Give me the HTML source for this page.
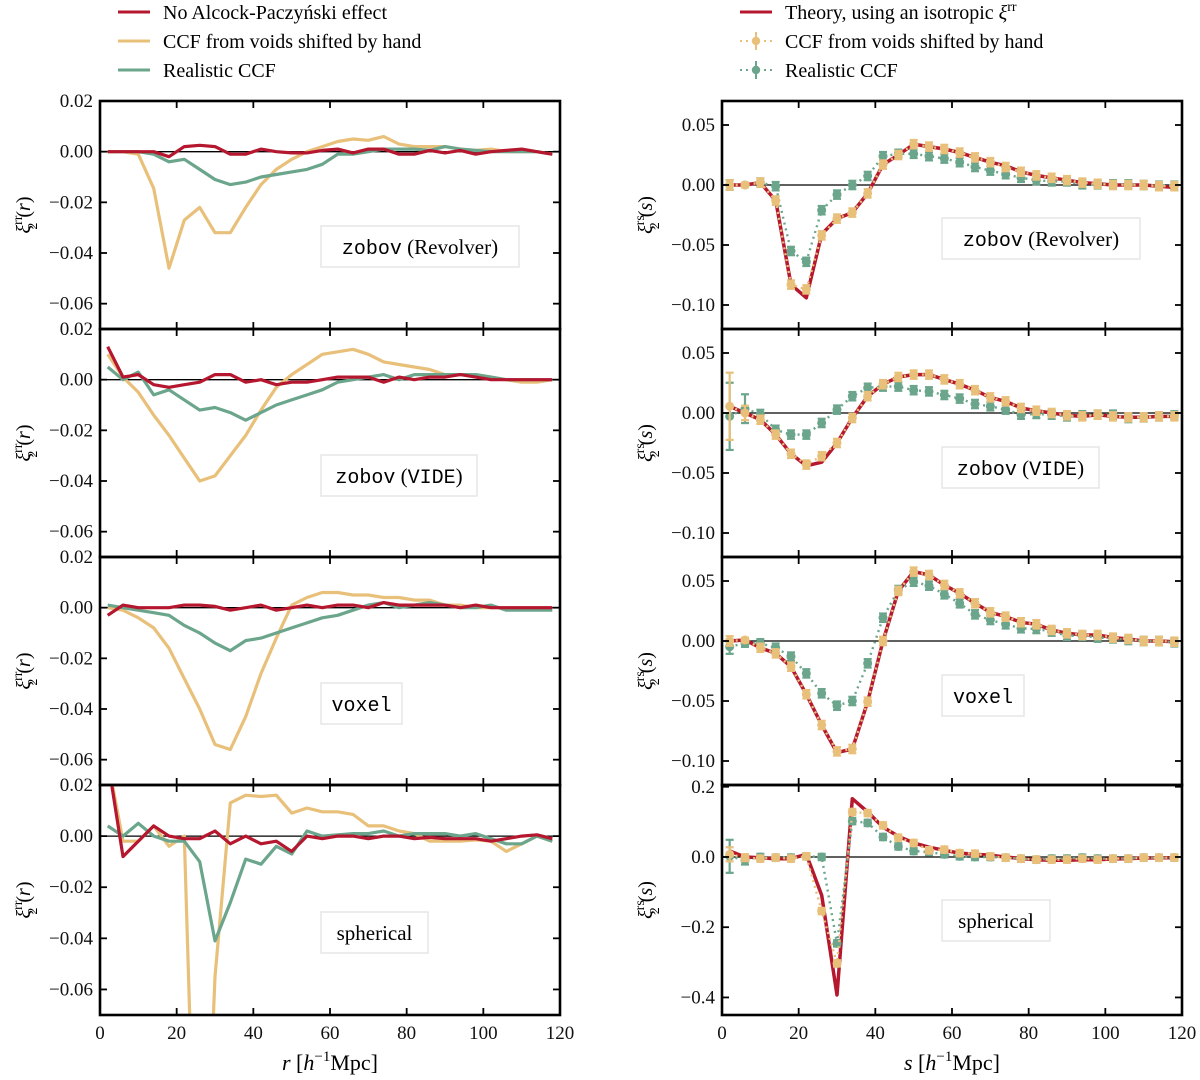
<!DOCTYPE html>
<html><head><meta charset="utf-8">
<style>
html,body{margin:0;padding:0;background:#fff;width:1200px;height:1080px;overflow:hidden;}
svg{display:block;font-family:"Liberation Serif",serif;}
.tk{font-size:19px;fill:#111;font-family:"Liberation Serif",serif;}
.mono{font-family:"Liberation Mono",monospace;font-size:20px;}
</style></head>
<body>
<svg id="fig" width="1200" height="1080" viewBox="0 0 1200 1080">
  <g id="legends">
    <g>
      <line x1="118" y1="12" x2="150" y2="12" stroke="#b5172f" stroke-width="3"/>
      <text x="163" y="19" font-size="20">No Alcock-Paczyński effect</text>
      <line x1="118" y1="41" x2="150" y2="41" stroke="#e8c07a" stroke-width="3"/>
      <text x="163" y="48" font-size="20">CCF from voids shifted by hand</text>
      <line x1="118" y1="70" x2="150" y2="70" stroke="#6aa58c" stroke-width="3"/>
      <text x="163" y="77" font-size="20">Realistic CCF</text>
    </g>
    <g>
      <line x1="740" y1="12" x2="772" y2="12" stroke="#b5172f" stroke-width="3"/>
      <text x="785" y="19" font-size="20">Theory, using an isotropic <tspan font-style="italic">ξ</tspan><tspan font-size="14" dy="-8">rr</tspan></text>
      <line x1="740" y1="41" x2="772" y2="41" stroke="#e8c07a" stroke-width="2" stroke-dasharray="2,4"/>
      <line x1="756" y1="32" x2="756" y2="50" stroke="#e8c07a" stroke-width="2"/>
      <circle cx="756" cy="41" r="4.2" fill="#e8c07a"/>
      <text x="785" y="48" font-size="20">CCF from voids shifted by hand</text>
      <line x1="740" y1="70" x2="772" y2="70" stroke="#6aa58c" stroke-width="2" stroke-dasharray="2,4"/>
      <line x1="756" y1="61" x2="756" y2="79" stroke="#6aa58c" stroke-width="2"/>
      <circle cx="756" cy="70" r="4.2" fill="#6aa58c"/>
      <text x="785" y="77" font-size="20">Realistic CCF</text>
    </g>
  </g>
  <g id="panels"></g>
</svg>
<script>
const xs = [2,6,10,14,18,22,26,30,34,38,42,46,50,54,58,62,66,70,74,78,82,86,90,94,98,102,106,110,114,118];
const xTicks = [0,20,40,60,80,100,120];
const yTicksLeft = [0.02,0,-0.02,-0.04,-0.06];
const yTickLabelsLeft = ["0.02","0.00","−0.02","−0.04","−0.06"];
const yTicksRight = [0.05,0,-0.05,-0.10];
const yTickLabelsRight = ["0.05","0.00","−0.05","−0.10"];
const yTicksRight4 = [0.2,0,-0.2,-0.4];
const yTickLabelsRight4 = ["0.2","0.0","−0.2","−0.4"];
const panelNames = ["zobov (Revolver)","zobov (VIDE)","voxel","spherical"];

// Left column: xi^rr
const leftRed1 = [0,0,0,0,-0.002,0.002,0.0025,0.002,-0.001,-0.001,0.001,0,-0.0005,-0.0005,0.0005,0.001,-0.0005,0.001,0.001,-0.001,-0.001,0.0005,-0.0005,0.0005,-0.001,0,0.0005,0.001,0,-0.001];
const leftYel1 = [0,0,-0.001,-0.0145,-0.046,-0.027,-0.022,-0.032,-0.032,-0.022,-0.013,-0.007,-0.003,0,0.002,0.004,0.005,0.0045,0.006,0.003,0.002,0.002,0.002,0.001,0.0005,0.001,0,0,0,-0.001];
const leftGrn1 = [0,0,0,-0.001,-0.004,-0.003,-0.007,-0.011,-0.013,-0.012,-0.010,-0.009,-0.008,-0.007,-0.005,-0.001,-0.001,0,0.001,0.001,0.001,0.0005,0.002,0.001,0.0005,0,0,0,0,-0.001];
const leftRed2 = [0.013,0.001,0.002,-0.002,-0.003,-0.002,-0.001,0.002,0.002,-0.001,0,-0.002,-0.001,-0.001,0,0.001,0.001,0.001,-0.001,0.001,0,0.001,0.001,0.002,0.001,0,0,0,0,0];
const leftYel2 = [0.010,0.001,-0.005,-0.014,-0.022,-0.031,-0.040,-0.038,-0.030,-0.022,-0.012,-0.003,0.002,0.006,0.010,0.011,0.012,0.010,0.007,0.006,0.005,0.004,0.002,0.002,0.002,0.001,0,-0.001,-0.001,0];
const leftGrn2 = [0.005,0,0.003,-0.006,-0.004,-0.008,-0.012,-0.011,-0.013,-0.016,-0.013,-0.010,-0.008,-0.006,-0.004,-0.001,0,0.001,0.002,0,0.002,0.002,0.002,0.002,0.002,0.001,0,0,0,0];
const leftRed3 = [-0.003,0.001,0,0,0,0.001,0.001,0.0005,-0.001,0,0.001,-0.001,0,0.001,0,0.001,0.001,0,0.002,0.001,0.001,0.001,0.001,0,0.001,0,0,0,0,0];
const leftYel3 = [0,-0.001,-0.004,-0.008,-0.016,-0.028,-0.040,-0.054,-0.056,-0.043,-0.026,-0.012,0.001,0.004,0.006,0.006,0.005,0.005,0.004,0.004,0.003,0.003,0.001,0.001,0,0,0,0,0,0];
const leftGrn3 = [0.001,0,-0.001,-0.002,-0.003,-0.007,-0.010,-0.014,-0.017,-0.013,-0.012,-0.010,-0.008,-0.006,-0.004,-0.003,-0.001,0.001,0.002,0,0.001,0.002,0.001,0,0,0.001,-0.001,-0.001,-0.001,-0.001];
const leftRed4 = [0.03,-0.008,-0.002,0.004,0,-0.001,-0.001,0.002,-0.003,0,-0.003,-0.002,-0.006,0,-0.001,0,0,-0.001,0,0,-0.001,-0.0005,-0.001,-0.001,-0.001,-0.002,-0.001,0,0.0005,-0.001];
const leftYel4 = [0.03,-0.002,-0.002,0.004,-0.004,0,-0.2,-0.055,0.013,0.016,0.0155,0.016,0.009,0.011,0.0095,0.0095,0.0085,0.004,0.004,0.002,0.001,-0.002,-0.002,-0.002,-0.0015,-0.002,-0.006,-0.003,0,-0.002];
const leftGrn4 = [0.004,0,0.005,0,-0.002,-0.002,-0.010,-0.041,-0.026,-0.009,-0.011,-0.004,-0.007,0.002,0,0.0005,0.001,0.001,0.002,0,0.001,0.001,0.001,0,0.001,-0.001,-0.003,-0.003,0,-0.002];

// Right column: xi^rs
const rightRed1 = [0,0,0.002,-0.013,-0.083,-0.094,-0.041,-0.028,-0.023,-0.007,0.017,0.025,0.034,0.032,0.030,0.027,0.023,0.019,0.016,0.011,0.008,0.006,0.004,0.002,0.001,0,0,0,-0.001,-0.002];
const rightYel1 = [0,0,0.002,-0.013,-0.083,-0.087,-0.042,-0.028,-0.023,-0.007,0.017,0.025,0.034,0.032,0.030,0.027,0.023,0.019,0.015,0.011,0.008,0.006,0.004,0.002,0.001,0,0,0,-0.001,-0.001];
const rightGrn1 = [0,0,0.002,-0.001,-0.055,-0.064,-0.021,-0.008,0,0.0075,0.024,0.026,0.026,0.024,0.022,0.019,0.015,0.012,0.009,0.006,0.004,0.003,0.003,0.0006,0.0006,0.0006,0.0006,0,-0.0006,-0.0006];
const rightRed2 = [0.0056,0,-0.0056,-0.018,-0.034,-0.044,-0.041,-0.025,-0.004,0.014,0.024,0.030,0.032,0.032,0.028,0.024,0.019,0.013,0.0097,0.0042,0.0019,0,-0.0019,-0.0028,-0.0014,-0.0028,-0.0036,-0.0036,-0.0028,-0.0028];
const rightYel2 = [0.0056,0,-0.0056,-0.018,-0.034,-0.043,-0.036,-0.025,-0.0042,0.014,0.024,0.030,0.032,0.032,0.028,0.024,0.019,0.013,0.0097,0.0042,0.0019,0,-0.0019,-0.0028,-0.0014,-0.0028,-0.0036,-0.0036,-0.0028,-0.0028];
const rightGrn2 = [-0.0028,0.0036,-0.0008,-0.014,-0.018,-0.018,-0.0083,0.0028,0.014,0.021,0.022,0.022,0.019,0.018,0.015,0.012,0.0075,0.0056,0.0028,-0.0014,-0.0008,-0.0014,-0.0028,-0.0019,-0.0014,-0.0014,-0.0042,-0.0036,-0.0028,-0.002];
const rightRed3 = [0,0.0008,-0.0056,-0.0103,-0.0214,-0.0444,-0.070,-0.093,-0.090,-0.0506,0,0.0417,0.0578,0.0550,0.0467,0.0397,0.0314,0.0239,0.0203,0.0156,0.0139,0.0092,0.0064,0.005,0.005,0.0028,0.0017,0,0,-0.0006];
const rightYel3 = [0,0.0008,-0.0056,-0.0103,-0.0214,-0.0444,-0.070,-0.092,-0.090,-0.0506,0,0.0417,0.0578,0.0550,0.0467,0.0397,0.0314,0.0239,0.0203,0.0156,0.0139,0.0092,0.0064,0.005,0.005,0.0028,0.0017,0,0,-0.0006];
const rightGrn3 = [-0.0047,-0.0019,-0.0019,-0.0056,-0.013,-0.027,-0.0436,-0.0539,-0.05,-0.0186,0.0194,0.0425,0.0494,0.0461,0.0389,0.0314,0.0222,0.0175,0.0139,0.0106,0.01,0.0078,0.0044,0.0044,0.0028,0.0022,0.0008,0,0,-0.0011];
const rightRed4 = [0.017,0,-0.002,-0.005,-0.005,0.0076,-0.109,-0.393,0.166,0.128,0.085,0.059,0.040,0.028,0.019,0.011,0.0076,0.0047,0,-0.0047,-0.0076,-0.0095,-0.0095,-0.0076,-0.0076,-0.0057,-0.0047,-0.0028,-0.0019,-0.0019];
const rightYel4 = [0.0076,-0.0019,-0.0047,-0.0019,-0.0047,0.0019,-0.154,-0.303,0.128,0.125,0.090,0.055,0.040,0.019,0.021,0.011,0.0095,0.0019,-0.0019,-0.0047,-0.0076,-0.0076,-0.0076,-0.0047,-0.0076,-0.0047,-0.0047,-0.0019,-0.0019,-0.0019];
const rightGrn4 = [0.0019,-0.0095,0,-0.0019,-0.0019,0.0019,0,-0.246,0.102,0.097,0.057,0.030,0.017,0.014,0.0076,0.0019,0,0,-0.0019,-0.0047,-0.0076,-0.0047,-0.0047,-0.0019,-0.0047,-0.0047,-0.0047,-0.0019,-0.0019,-0.0019];
// error bar half-widths: first two bins, then the typical value
const errYelFirst = [[0.004,0.002],[0.028,0.006],[0.004,0.002],[0.02,0.01]];
const errGrnFirst = [[0.004,0.002],[0.028,0.012],[0.006,0.003],[0.047,0.012]];
const errTypical = [0.0035,0.0035,0.0035,0.009];

const RED="#b5172f", YEL="#e8c07a", GRN="#6aa58c";
const NS="http://www.w3.org/2000/svg";
const panelsG=document.getElementById('panels');
const rows=[[101,329],[329,557],[557,785],[785,1015]];
const cols=[[100,560],[722,1182]];
const leftYlim=[-0.07,0.02];
const rightYlim=[-0.12,0.07];
const right4Ylim=[-0.45,0.205];
const leftData=[[leftRed1,leftYel1,leftGrn1],[leftRed2,leftYel2,leftGrn2],[leftRed3,leftYel3,leftGrn3],[leftRed4,leftYel4,leftGrn4]];
const rightData=[[rightRed1,rightYel1,rightGrn1],[rightRed2,rightYel2,rightGrn2],[rightRed3,rightYel3,rightGrn3],[rightRed4,rightYel4,rightGrn4]];
const boxW=[[198,156,81,107],[198,157,82,108]];
const boxY=[[226,455,683,912],[218,447,675,900]];

function mk(tag,attrs,parent){const e=document.createElementNS(NS,tag);for(const k in attrs)e.setAttribute(k,attrs[k]);if(parent)parent.appendChild(e);return e;}

for(let c=0;c<2;c++){
  for(let r=0;r<4;r++){
    const [x0,x1]=cols[c],[y0,y1]=rows[r];
    const ylim=c===0?leftYlim:(r===3?right4Ylim:rightYlim);
    const X=v=>x0+(v-0)/(120-0)*(x1-x0);
    const Y=v=>y1-(v-ylim[0])/(ylim[1]-ylim[0])*(y1-y0);
    const g=mk('g',{},panelsG);
    
    
    const cid='clip'+c+r;
    const cp=mk('clipPath',{id:cid},g);mk('rect',{x:x0,y:y0,width:x1-x0,height:y1-y0},cp);
    const zl=mk('line',{x1:x0,x2:x1,y1:Y(0),y2:Y(0),stroke:'#000','stroke-width':1.3},g);
    
    
    const plot=mk('g',{'clip-path':'url(#'+cid+')'},g);
    const ds=c===0?leftData[r]:rightData[r];
    const pts=a=>a.map((v,i)=>X(xs[i]).toFixed(1)+','+Y(v).toFixed(1)).join(' ');
    if(c===0){
      [[ds[1],YEL,'shifted-ccf-line'],[ds[2],GRN,'realistic-ccf-line'],[ds[0],RED,'no-ap-line']].forEach(([a,col,nm])=>{
        const pl=mk('polyline',{points:pts(a),fill:'none',stroke:col,'stroke-width':3.2,'stroke-linejoin':'round'},plot);
        
        
      });
    } else {
      const th=mk('polyline',{points:pts(ds[0]),fill:'none',stroke:RED,'stroke-width':3.5,'stroke-linejoin':'round'},plot);
      
      
      [[ds[2],GRN,'realistic-ccf',errGrnFirst[r]],[ds[1],YEL,'shifted-ccf',errYelFirst[r]]].forEach(([a,col,nm,ef])=>{
        const sg=mk('g',{},plot);
        
        
        mk('polyline',{points:pts(a),fill:'none',stroke:col,'stroke-width':2.4,'stroke-dasharray':'2,4'},sg);
        a.forEach((v,i)=>{
          const e=i<2?ef[i]:errTypical[r];
          const cx=X(xs[i]);
          mk('line',{x1:cx,x2:cx,y1:Y(v+e),y2:Y(v-e),stroke:col,'stroke-width':2.2},sg);
          mk('line',{x1:cx-4,x2:cx+4,y1:Y(v+e),y2:Y(v+e),stroke:col,'stroke-width':2.2},sg);
          mk('line',{x1:cx-4,x2:cx+4,y1:Y(v-e),y2:Y(v-e),stroke:col,'stroke-width':2.2},sg);
          const pt=mk('circle',{cx:cx,cy:Y(v),r:4.5,fill:col},sg);
          
          
        });
      });
    }
    const fr=mk('rect',{x:x0,y:y0,width:x1-x0,height:y1-y0,fill:'none',stroke:'#000','stroke-width':2.6},g);
    
    
    xTicks.forEach(t=>{
      const px=X(t);
      mk('line',{x1:px,x2:px,y1:y1,y2:y1-7,stroke:'#000','stroke-width':1.8},g);
      mk('line',{x1:px,x2:px,y1:y0,y2:y0+7,stroke:'#000','stroke-width':1.8},g);
      if(r===3){const tl=mk('text',{x:px,y:y1+24,'text-anchor':'middle',class:'tk'},g);tl.textContent=String(t);
        
        }
    });
    const yt=c===0?yTicksLeft:(r===3?yTicksRight4:yTicksRight);
    const yl=c===0?yTickLabelsLeft:(r===3?yTickLabelsRight4:yTickLabelsRight);
    yt.forEach((t,i)=>{
      const py=Y(t);
      mk('line',{x1:x0,x2:x0+7,y1:py,y2:py,stroke:'#000','stroke-width':1.8},g);
      mk('line',{x1:x1,x2:x1-7,y1:py,y2:py,stroke:'#000','stroke-width':1.8},g);
      const tl=mk('text',{x:x0-7,y:py+6,'text-anchor':'end',class:'tk'},g);tl.textContent=yl[i];
      
      
    });
    const yx=c===0?30:652, yc=(y0+y1)/2;
    const ttl=mk('text',{x:yx,y:yc,transform:'rotate(-90 '+yx+' '+yc+')','text-anchor':'middle','font-size':20},g);
    
    
    ttl.innerHTML='<tspan font-style="italic">ξ</tspan><tspan font-size="14" dy="-8">'+(c===0?'rr':'rs')+'</tspan><tspan font-size="14" dx="-14" dy="15">2</tspan><tspan dy="-7"> (</tspan><tspan font-style="italic">'+(c===0?'r':'s')+'</tspan>)';
    const bx=c===0?321:942, by=boxY[c][r], bw=boxW[c][r];
    const ab=mk('g',{},g);
    
    
    mk('rect',{x:bx,y:by,width:bw,height:41,fill:'#fff',stroke:'#e6e6e6','stroke-width':1.5},ab);
    const tx=mk('text',{x:bx+bw/2,y:by+28,'text-anchor':'middle','font-size':21},ab);
    if(r===0) tx.innerHTML='<tspan class="mono">zobov</tspan> (Revolver)';
    else if(r===1) tx.innerHTML='<tspan class="mono">zobov</tspan> (<tspan class="mono">VIDE</tspan>)';
    else if(r===2) tx.innerHTML='<tspan class="mono">voxel</tspan>';
    else tx.textContent='spherical';
  }
}
[[330,'r'],[952,'s']].forEach(([cx,v])=>{
  const t=mk('text',{x:cx,y:1070,'text-anchor':'middle','font-size':22},document.getElementById('fig'));
  
  
  t.innerHTML='<tspan font-style="italic">'+v+'</tspan> [<tspan font-style="italic">h</tspan><tspan font-size="15" dy="-9">−1</tspan><tspan dy="9">Mpc]</tspan>';
});
</script>
</body></html>
